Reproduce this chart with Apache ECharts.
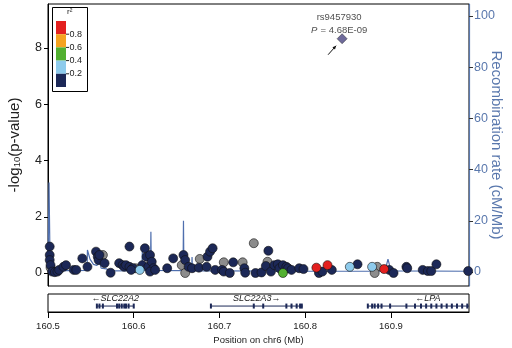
<!DOCTYPE html>
<html>
<head>
<meta charset="utf-8">
<script src="https://cdn.jsdelivr.net/npm/echarts@6/dist/echarts.min.js"></script>
<style>
  html, body { margin: 0; padding: 0; background: #fff; }
  #chart { width: 512px; height: 348px; }
</style>
</head>
<body>
<div id="chart"></div>
<script>
// SNPs: [position (Mb), -log10(p)], split by r2 bin
const navySnps = [
  [160.502, 0.94], [160.502, 0.64], [160.502, 0.46], [160.503, 0.28], [160.505, 0.05], [160.508, 0.03],
  [160.511, 0.05], [160.513, 0.11], [160.518, 0.22], [160.521, 0.28], [160.530, 0.11], [160.533, 0.11],
  [160.540, 0.52], [160.546, 0.22], [160.556, 0.76], [160.558, 0.58], [160.559, 0.46], [160.560, 0.64],
  [160.566, 0.35], [160.573, 0.01], [160.583, 0.35], [160.587, 0.28], [160.589, 0.22], [160.591, 0.28],
  [160.595, 0.94], [160.595, 0.22], [160.599, 0.17], [160.597, 0.11], [160.610, 0.28], [160.613, 0.88],
  [160.615, 0.58], [160.617, 0.22], [160.619, 0.64], [160.621, 0.40], [160.623, 0.17], [160.619, 0.05],
  [160.625, 0.11], [160.639, 0.17], [160.646, 0.52], [160.658, 0.64], [160.660, 0.46], [160.664, 0.22],
  [160.668, 0.17], [160.676, 0.19], [160.685, 0.22], [160.686, 0.58], [160.689, 0.76], [160.692, 0.88],
  [160.695, 0.11], [160.703, 0.11], [160.705, 0.05], [160.712, 0.00], [160.716, 0.38], [160.729, 0.17],
  [160.730, 0.01], [160.742, 0.00], [160.749, 0.02], [160.754, 0.25], [160.757, 0.79], [160.760, 0.05],
  [160.764, 0.28], [160.768, 0.31], [160.770, 0.17], [160.774, 0.28], [160.778, 0.22], [160.780, 0.17],
  [160.784, 0.11], [160.793, 0.17], [160.798, 0.14], [160.816, 0.00], [160.820, 0.05], [160.831, 0.11],
  [160.861, 0.31], [160.898, 0.11], [160.903, 0.00], [160.918, 0.22], [160.919, 0.17], [160.937, 0.11],
  [160.943, 0.07], [160.947, 0.07], [160.953, 0.31], [160.990, 0.07]
];
const graySnps = [
  [160.503, 0.19], [160.564, 0.64], [160.602, 0.17], [160.656, 0.28], [160.660, 0.00], [160.677, 0.50],
  [160.705, 0.38], [160.727, 0.38], [160.740, 1.06], [160.756, 0.40], [160.884, 0.22], [160.881, 0.00]
];
const lightBlueSnps = [[160.607, 0.11], [160.852, 0.22], [160.878, 0.22]];
const greenSnps = [[160.774, 0.00]];
const redSnps = [[160.813, 0.19], [160.826, 0.28], [160.892, 0.14]];
const leadSnp = [[160.843, 8.33]];
const leadName = 'rs9457930';
const leadP = '4.68E-09';

// recombination rate (cM/Mb)
const recombRate = [
  [160.500, 0.6], [160.5012, 35], [160.5025, 0.8], [160.520, 0.5], [160.5455, 0.6], [160.546, 8.6],
  [160.549, 5], [160.553, 3], [160.557, 2.6], [160.5605, 3.5], [160.562, 1.5], [160.568, 1.2],
  [160.574, 0.4], [160.6095, 0.5], [160.610, 7.9], [160.6105, 0.6], [160.6195, 0.6], [160.620, 15.7],
  [160.6205, 0.6], [160.6575, 0.5], [160.658, 20], [160.6585, 0.5], [160.6675, 0.5], [160.668, 5.9],
  [160.6685, 0.4], [160.700, 0.4], [160.800, 0.3], [160.893, 0.3], [160.8965, 5], [160.900, 0.4],
  [160.990, 0.3]
];

// genes
const geneNames = ['SLC22A2', 'SLC22A3', 'LPA'];
const geneStarts = [160.557, 160.690, 160.873];
const geneEnds = [160.600, 160.797, 161.013];
const geneStrands = ['-', '+', '-'];
const geneExons = [
  [160.557, 160.560, 160.564, 160.5805, 160.583, 160.586, 160.589, 160.591, 160.594, 160.600],
  [160.690, 160.740, 160.751, 160.778, 160.784, 160.790, 160.794, 160.796],
  [160.873, 160.878, 160.881, 160.885, 160.889, 160.899, 160.918, 160.928, 160.935, 160.941, 160.947,
   160.953, 160.959, 160.965, 160.971, 160.977, 160.983, 160.989]
];

const xTicks = [160.5, 160.6, 160.7, 160.8, 160.9];
const pTicks = [0, 2, 4, 6, 8];
const rateTicks = [0, 20, 40, 60, 80, 100];
const ldColors = ['#e3201f', '#f5a320', '#52b030', '#8ecbec', '#1c2857'];
const ldLabels = ['0.8', '0.6', '0.4', '0.2'];

const FONT = 'Liberation Sans, Arial, sans-serif';
const BLUE = '#5a78ad';

const chart = echarts.init(document.getElementById('chart'));

function dotSeries (data, color) {
  return {
    type: 'scatter',
    xAxisIndex: 0,
    yAxisIndex: 0,
    data: data,
    symbol: 'circle',
    symbolSize: 9,
    z: 3,
    itemStyle: { color: color, borderColor: '#111', borderWidth: 0.6, opacity: 1 },
    silent: true
  }
}

function renderGene (params, api) {
  const i = api.value(2);
  const cs = params.coordSys;
  const s = api.coord([geneStarts[i], 0.33]);
  const e = api.coord([geneEnds[i], 0.33]);
  const x0 = Math.max(s[0], cs.x);
  const x1 = Math.min(e[0], cs.x + cs.width);
  const children = [{
    type: 'line',
    shape: { x1: x0, y1: s[1], x2: x1, y2: s[1] },
    style: { stroke: '#1c2857', lineWidth: 1 }
  }];
  geneExons[i].forEach(function (p) {
    const c = api.coord([p, 0.33]);
    if (c[0] <= cs.x + cs.width) {
      children.push({
        type: 'rect',
        shape: { x: c[0] - 1, y: c[1] - 2.5, width: 2, height: 5 },
        style: { fill: '#1c2857' }
      });
    }
  });
  const mid = api.coord([(geneStarts[i] + geneEnds[i]) / 2, 0.33]);
  const label = geneStrands[i] === '-' ? '\u2190' + geneNames[i] : geneNames[i] + '\u2192';
  children.push({
    type: 'text',
    x: mid[0],
    y: s[1] - 3,
    style: {
      text: label,
      fontStyle: 'italic',
      fontSize: 9,
      fontFamily: FONT,
      fill: '#222',
      align: 'center',
      verticalAlign: 'bottom'
    }
  });
  return { type: 'group', children: children };
}

// r2 legend box
const legendGraphic = [{
  type: 'rect',
  shape: { x: 52.5, y: 7.5, width: 35, height: 84 },
  style: { fill: '#fff', stroke: '#000', lineWidth: 1 },
  z: 10
}, {
  type: 'text',
  x: 67,
  y: 8,
  style: { text: 'r\u00b2', fontSize: 8, fontFamily: FONT, fill: '#222' },
  z: 11
}];
ldColors.forEach(function (c, k) {
  legendGraphic.push({
    type: 'rect',
    shape: { x: 56, y: 21 + k * 13.2, width: 10, height: 13.2 },
    style: { fill: c },
    z: 11
  });
});
ldLabels.forEach(function (t, k) {
  const y = 21 + (k + 1) * 13.2;
  legendGraphic.push({
    type: 'line',
    shape: { x1: 66, y1: y, x2: 69, y2: y },
    style: { stroke: '#222', lineWidth: 1 },
    z: 11
  });
  legendGraphic.push({
    type: 'text',
    x: 69.5,
    y: y,
    style: { text: t, fontSize: 9, fontFamily: FONT, fill: '#222', verticalAlign: 'middle' },
    z: 11
  });
});

chart.setOption({
  animation: false,
  textStyle: { fontFamily: FONT },
  grid: [
    { left: 48, right: 43, top: 4, height: 282, show: true, borderColor: '#000', borderWidth: 1, backgroundColor: 'transparent', outerBoundsMode: 'none' },
    { left: 48, right: 43, top: 294, height: 18, show: true, borderColor: '#000', borderWidth: 1, backgroundColor: 'transparent', outerBoundsMode: 'none' }
  ],
  xAxis: [
    { gridIndex: 0, type: 'value', min: 160.5, max: 160.991, show: false },
    {
      gridIndex: 1,
      type: 'value',
      min: 160.5,
      max: 160.991,
      position: 'bottom',
      name: 'Position on chr6 (Mb)',
      nameLocation: 'middle',
      nameGap: 23,
      nameMoveOverlap: false,
      nameTextStyle: { fontSize: 9.5, color: '#222', fontFamily: FONT },
      axisLine: { show: true, lineStyle: { color: '#000', width: 1 } },
      axisTick: { show: true, inside: false, length: 6, customValues: xTicks, lineStyle: { color: '#000' } },
      axisLabel: {
        customValues: xTicks,
        fontSize: 9.5,
        color: '#222',
        margin: 9,
        formatter: function (v) { return v.toFixed(1) }
      },
      splitLine: { show: false }
    }
  ],
  yAxis: [
    {
      gridIndex: 0,
      type: 'value',
      min: -0.462,
      max: 9.565,
      position: 'left',
      name: '-log{s|10}(p-value)',
      nameLocation: 'middle',
      nameGap: 26,
      nameMoveOverlap: false,
      nameTextStyle: {
        fontSize: 15,
        color: '#222',
        fontFamily: FONT,
        rich: { s: { fontSize: 9.5, fontFamily: FONT, color: '#222', verticalAlign: 'bottom', padding: [5, 0, 0, 0] } }
      },
      axisLine: { show: true, lineStyle: { color: '#000', width: 1 } },
      axisTick: { show: true, length: 4, customValues: pTicks, lineStyle: { color: '#000' } },
      axisLabel: { customValues: pTicks, fontSize: 12.5, color: '#222', margin: 6 },
      splitLine: { show: false }
    },
    {
      gridIndex: 0,
      type: 'value',
      min: -5.47,
      max: 104.7,
      position: 'right',
      name: 'Recombination rate (cM/Mb)',
      nameLocation: 'middle',
      nameRotate: -90,
      nameGap: 20,
      nameMoveOverlap: false,
      nameTextStyle: { fontSize: 15, color: BLUE, fontFamily: FONT },
      axisLine: { show: true, lineStyle: { color: BLUE, width: 1.2 } },
      axisTick: { show: true, length: 4, customValues: rateTicks, lineStyle: { color: '#333' } },
      axisLabel: { customValues: rateTicks, fontSize: 12.5, color: BLUE, margin: 5 },
      splitLine: { show: false }
    },
    { gridIndex: 1, type: 'value', min: 0, max: 1, show: false }
  ],
  series: [
    {
      type: 'line',
      xAxisIndex: 0,
      yAxisIndex: 1,
      data: recombRate,
      symbol: 'none',
      z: 2,
      lineStyle: { color: '#4f6fae', width: 1.2 },
      silent: true
    },
    dotSeries(graySnps, '#8c8c8c'),
    dotSeries(navySnps, '#1c2857'),
    dotSeries(lightBlueSnps, ldColors[3]),
    dotSeries(greenSnps, ldColors[2]),
    dotSeries(redSnps, ldColors[0]),
    {
      type: 'scatter',
      xAxisIndex: 0,
      yAxisIndex: 0,
      data: leadSnp,
      symbol: 'diamond',
      symbolSize: [10, 10],
      z: 4,
      itemStyle: { color: '#4b4682', borderColor: '#222', borderWidth: 0.6 },
      label: {
        show: true,
        position: 'top',
        distance: 5,
        offset: [-3, 8],
        formatter: '{n|' + leadName + '}\n{i|P} {n|= ' + leadP + '}',
        rich: {
          n: { fontSize: 9.5, color: '#222', fontFamily: FONT, lineHeight: 13 },
          i: { fontSize: 9.5, color: '#222', fontFamily: FONT, fontStyle: 'italic', lineHeight: 13 }
        }
      },
      silent: true
    },
    {
      type: 'custom',
      xAxisIndex: 1,
      yAxisIndex: 2,
      renderItem: renderGene,
      data: geneNames.map(function (n, i) { return [geneStarts[i], geneEnds[i], i] }),
      encode: { x: [0, 1], y: 2 },
      silent: true
    }
  ],
  graphic: legendGraphic
});

// arrow pointing at the lead SNP
const lp = chart.convertToPixel({ gridIndex: 0 }, leadSnp[0]);
const tip = [lp[0] - 6, lp[1] + 7];
const tail = [lp[0] - 14, lp[1] + 16];
const ang = Math.atan2(tip[1] - tail[1], tip[0] - tail[0]);
const head = [
  tip,
  [tip[0] - 4 * Math.cos(ang - 0.45), tip[1] - 4 * Math.sin(ang - 0.45)],
  [tip[0] - 4 * Math.cos(ang + 0.45), tip[1] - 4 * Math.sin(ang + 0.45)]
];
chart.setOption({
  graphic: legendGraphic.concat([
    { type: 'line', shape: { x1: tail[0], y1: tail[1], x2: tip[0], y2: tip[1] }, style: { stroke: '#111', lineWidth: 1 }, z: 12 },
    { type: 'polygon', shape: { points: head }, style: { fill: '#111' }, z: 12 }
  ])
});
</script>
</body>
</html>
